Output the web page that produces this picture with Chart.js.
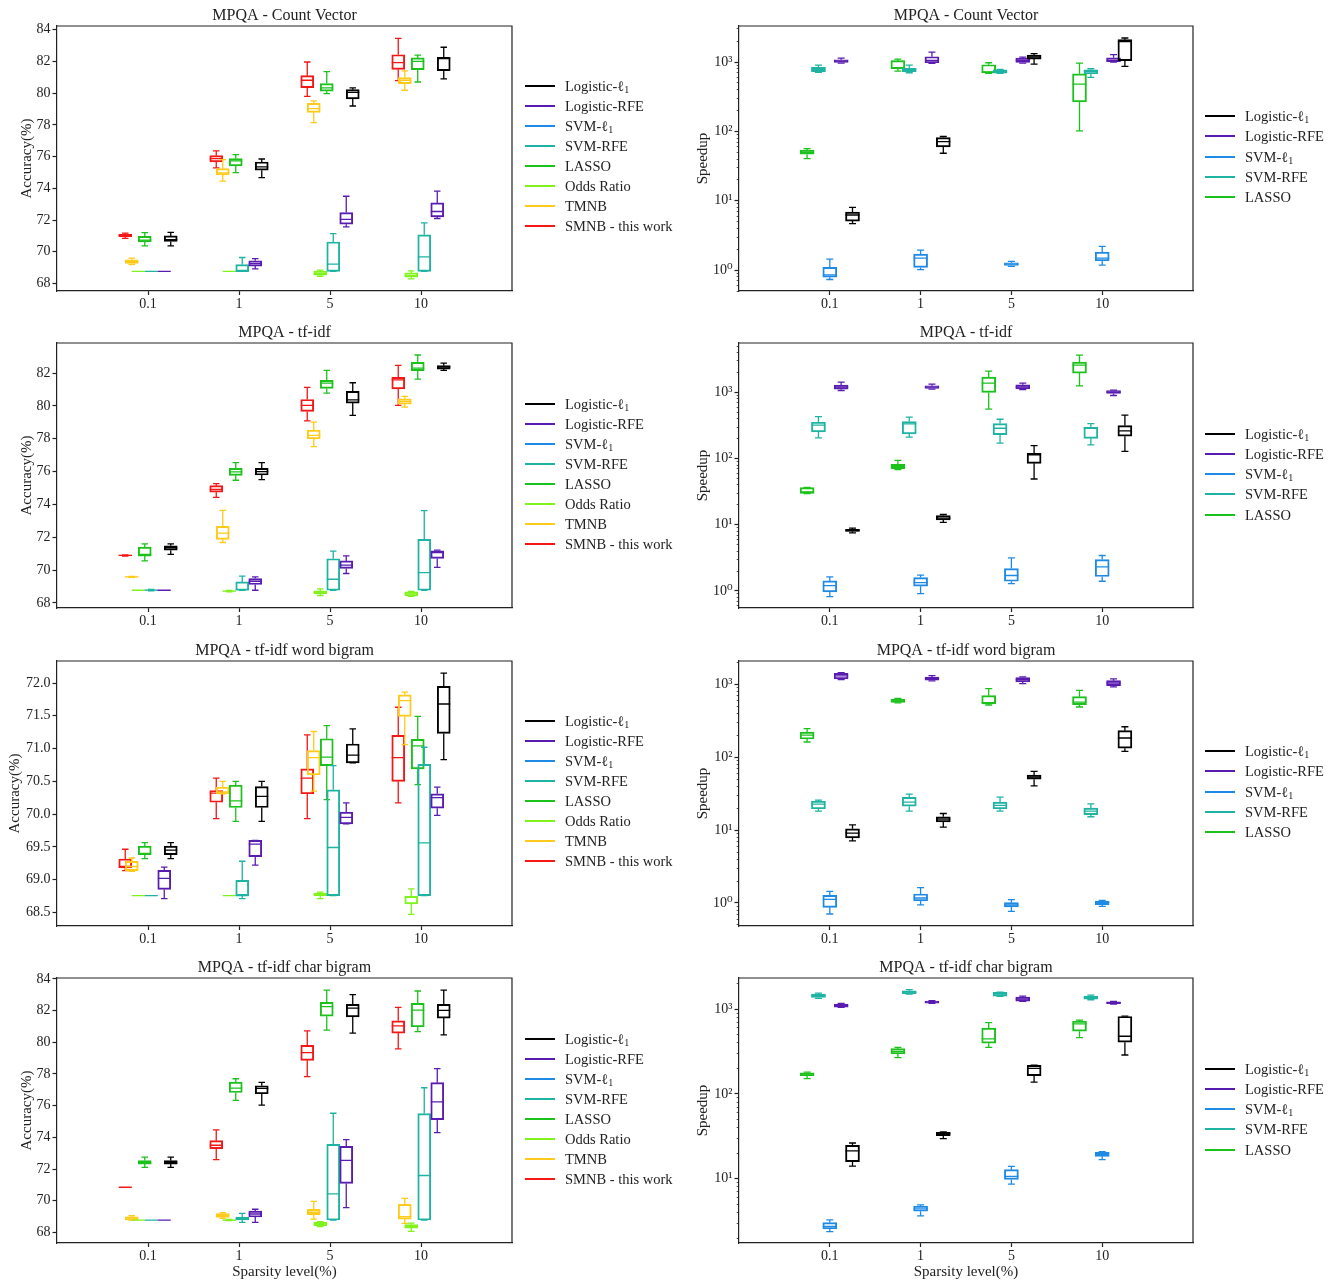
<!DOCTYPE html>
<html lang="en">
<head>
<meta charset="UTF-8">
<title>MPQA - accuracy and speedup</title>
<script src="https://cdn.jsdelivr.net/npm/chart.js"></script>
<style>
  * { margin:0; padding:0; box-sizing:border-box; }
  body { width:1341px; height:1282px; background:#fff; overflow:hidden; font-family:"Liberation Serif","DejaVu Serif",serif; }
  #wrap { position:relative; width:1341px; height:1282px; }
  canvas { position:absolute; }
  .lg { position:absolute; font-size:14.5px; line-height:18px; color:#222; white-space:nowrap; }
  .lg sub { font-size:10px; vertical-align:-2px; line-height:0; }
  .ln { position:absolute; width:30px; height:2px; }
</style>
</head>
<body>
<div id="wrap"></div>
<script>
// categories and legend
const categories = ['0.1', '1', '5', '10'];
const methods = ['Logistic-ℓ1', 'Logistic-RFE', 'SVM-ℓ1', 'SVM-RFE', 'LASSO', 'Odds Ratio', 'TMNB', 'SMNB - this work'];
const colors = ['#000000', '#5a1cb0', '#1f8ae6', '#1fb3a3', '#1cc21c', '#80f21c', '#ffca1a', '#f51616'];

// each row: one method (legend order), 4 boxes of [whiskerLow, q1, median, q3, whiskerHigh]
const accCount = [
  [[70.37,70.65,70.77,71.0,71.23],[74.68,75.14,75.35,75.66,75.85],[79.19,79.63,80.05,80.22,80.33],[80.9,81.42,82.17,82.26,82.89]],
  [[68.77,68.77,68.77,68.77,68.77],[68.92,69.1,69.26,69.43,69.57],[71.57,71.74,72.05,72.47,73.5],[72.1,72.2,72.54,73.08,73.82]],
  null,
  [[68.77,68.77,68.77,68.77,68.77],[68.77,68.77,68.77,69.2,69.64],[68.77,68.77,69.22,70.62,71.15],[68.77,68.77,69.68,71.07,71.82]],
  [[70.37,70.62,70.73,70.98,71.21],[74.99,75.41,75.73,75.87,76.13],[79.97,80.12,80.33,80.6,81.35],[80.7,81.48,82.0,82.22,82.4]],
  [[68.77,68.77,68.77,68.77,68.77],[68.77,68.77,68.77,68.77,68.77],[68.46,68.53,68.63,68.78,68.84],[68.3,68.4,68.5,68.67,68.8]],
  [[69.2,69.27,69.38,69.5,69.6],[74.45,74.85,74.97,75.24,75.81],[78.14,78.79,79.02,79.36,79.51],[80.18,80.6,80.81,80.98,81.4]],
  [[70.85,70.95,71.02,71.1,71.18],[75.29,75.66,75.87,76.06,76.36],[79.8,80.35,80.81,81.1,81.96],[80.79,81.5,81.92,82.42,83.45]]
];
const accTfidf = [
  [[70.95,71.21,71.36,71.48,71.6],[75.51,75.79,76.0,76.2,76.55],[79.42,80.17,80.37,80.88,81.41],[82.16,82.24,82.37,82.45,82.6]],
  [[68.77,68.77,68.77,68.77,68.77],[68.77,69.12,69.32,69.48,69.59],[69.79,70.1,70.3,70.56,70.87],[70.16,70.71,71.07,71.17,71.21]],
  null,
  [[68.74,68.76,68.78,68.8,68.82],[68.77,68.77,68.81,69.28,69.63],[68.77,68.77,69.44,70.69,71.15],[68.77,68.77,69.85,71.87,73.62]],
  [[70.56,70.85,70.95,71.4,71.6],[75.47,75.77,75.98,76.2,76.55],[80.78,81.06,81.39,81.55,82.16],[81.63,82.14,82.3,82.65,83.1]],
  [[68.77,68.77,68.77,68.77,68.77],[68.68,68.7,68.72,68.74,68.76],[68.45,68.57,68.65,68.73,68.85],[68.4,68.43,68.55,68.67,68.7]],
  [[69.56,69.57,69.58,69.6,69.61],[71.68,71.87,72.25,72.66,73.64],[77.52,77.99,78.2,78.52,79.01],[79.92,80.11,80.27,80.43,80.58]],
  [[70.85,70.87,70.89,70.91,70.93],[74.43,74.74,74.92,75.14,75.26],[79.09,79.66,80.03,80.39,81.13],[80.03,81.04,81.59,81.74,82.47]]
];
const accWord = [
  [[69.32,69.38,69.45,69.51,69.565],[69.89,70.1,70.27,70.42,70.5],[70.78,70.78,70.9,71.07,71.3],[70.83,71.23,71.68,71.95,72.15]],
  [[68.71,68.85,69.02,69.14,69.19],[69.22,69.35,69.54,69.6,69.6],[69.85,69.85,69.95,70.03,70.17],[69.98,70.09,70.25,70.31,70.41]],
  null,
  [[68.755,68.755,68.755,68.755,68.755],[68.71,68.755,68.755,68.99,69.28],[68.755,68.755,69.49,70.37,70.74],[68.755,68.755,69.56,70.76,71.02]],
  [[69.32,69.38,69.4,69.51,69.565],[69.89,70.1,70.2,70.44,70.5],[70.22,70.74,70.87,71.15,71.35],[70.45,70.69,71.04,71.14,71.49]],
  [[68.755,68.755,68.755,68.755,68.755],[68.755,68.755,68.755,68.755,68.755],[68.71,68.755,68.77,68.79,68.81],[68.47,68.63,68.73,68.75,68.86]],
  [[69.127,69.137,69.2,69.28,69.33],[70.31,70.31,70.34,70.41,70.5],[70.35,70.6,70.86,70.97,71.26],[71.06,71.49,71.73,71.82,71.86]],
  [[69.137,69.178,69.203,69.315,69.463],[69.93,70.18,70.32,70.36,70.55],[69.93,70.31,70.55,70.69,71.21],[70.17,70.5,70.86,71.2,71.63]]
];
const accChar = [
  [[72.1,72.31,72.4,72.54,72.75],[76.03,76.75,77.09,77.26,77.47],[80.58,81.61,82.16,82.39,83.01],[80.47,81.53,82.01,82.39,83.3]],
  [[68.78,68.78,68.78,68.78,68.78],[68.63,68.97,69.16,69.35,69.46],[69.56,71.09,72.54,73.43,73.85],[74.3,75.12,76.24,77.45,78.34]],
  null,
  [[68.78,68.78,68.78,68.78,68.78],[68.63,68.78,68.89,68.97,69.2],[68.78,68.78,70.43,73.56,75.52],[68.78,68.78,71.59,75.5,77.13]],
  [[72.1,72.31,72.4,72.54,72.75],[76.33,76.83,77.11,77.49,77.7],[80.77,81.65,82.25,82.52,83.3],[80.68,80.98,82.03,82.46,83.24]],
  [[68.78,68.78,68.78,68.78,68.78],[68.74,68.76,68.78,68.8,68.82],[68.36,68.42,68.53,68.63,68.68],[68.06,68.27,68.38,68.49,68.59]],
  [[68.78,68.78,68.84,68.99,69.05],[68.89,68.95,69.08,69.18,69.25],[68.84,69.12,69.27,69.46,69.96],[68.57,68.84,69.0,69.77,70.15]],
  [[70.85,70.85,70.85,70.85,70.85],[72.59,73.28,73.5,73.79,74.47],[77.83,78.86,79.35,79.81,80.72],[79.58,80.58,81.04,81.36,82.2]]
];

// speedup: Logistic-ℓ1, Logistic-RFE, SVM-ℓ1, SVM-RFE, LASSO
const spdCount = [
  [[4.67,5.1,6.23,6.88,8.04],[48.4,59.8,71.4,81.6,84.4],[935,1105,1181,1262,1319],[865,1045,1966,2103,2222]],
  [[967,989,1033,1081,1142],[957,977,1057,1194,1394],[967,989,1057,1142,1181],[1000,1011,1069,1155,1276]],
  [[0.733,0.792,0.856,1.093,1.44],[1.02,1.093,1.49,1.70,1.945],[1.13,1.168,1.221,1.276,1.334],[1.18,1.364,1.49,1.82,2.2]],
  [[709,725,783,837,905],[701,725,774,810,905],[686,693,733,774,783],[600,678,733,774,801]],
  [[40.6,46.9,50.1,53.6,56.6],[741,801,1027,1045,1105],[686,701,717,915,978],[102,267,481,678,967]]
];
const spdTfidf = [
  [[7.57,7.92,8.2,8.5,8.9],[10.85,11.8,12.6,13.8,14.3],[49.2,85,113.6,120,157],[129,218,262,316,454]],
  [[1072,1123,1204,1291,1434],[1123,1150,1204,1262,1337],[1110,1136,1219,1306,1384],[901,966,1011,1072,1084]],
  [[0.82,0.966,1.205,1.418,1.63],[0.911,1.177,1.337,1.59,1.73],[1.29,1.40,1.71,2.18,3.16],[1.40,1.65,2.31,2.98,3.43]],
  [[206,254,320,355,433],[211,236,335,363,423],[171,231,288,339,394],[161,203,288,298,339]],
  [[29.5,29.8,31.3,36.4,36.8],[68.1,70.5,75.6,82,94.3],[559,1000,1384,1708,2105],[1262,1963,2600,2883,3680]]
];
const spdWord = [
  [[7.13,7.84,9.1,10.43,11.85],[11.0,13.0,14.2,15.3,16.96],[40.7,50.3,53.6,57.1,64.2],[121,134,185,233,264]],
  [[1172,1197,1316,1432,1463],[1124,1148,1210,1275,1330],[1032,1088,1172,1248,1275],[929,968,1054,1135,1197]],
  [[0.706,0.872,1.12,1.275,1.447],[0.939,1.065,1.17,1.33,1.626],[0.768,0.881,0.939,1.01,1.11],[0.9,0.948,1.02,1.065,1.088]],
  [[18.3,19.7,22.8,25.1,25.9],[18.3,21.4,24.3,28.2,31.3],[18.3,19.7,21.9,24.3,28.5],[15.3,16.3,18.3,20.1,23.0]],
  [[163,179,203,223,248],[563,571,596,628,646],[525,542,565,706,881],[493,531,577,684,836]]
];
const spdChar = [
  [[14.1,15.9,21.3,24.8,26.4],[29.7,32.3,34.1,35.3,35.6],[138,164,200,217,219],[288,407,479,819,827]],
  [[1046,1056,1100,1146,1170],[1166,1178,1210,1244,1256],[1232,1244,1314,1387,1425],[1146,1157,1190,1222,1232]],
  [[2.38,2.56,2.75,3.04,3.27],[3.65,4.14,4.41,4.75,4.92],[8.65,9.82,10.66,12.8,14.0],[16.8,18.4,19.4,20.5,20.9]],
  [[1337,1374,1438,1506,1546],[1504,1518,1589,1648,1695],[1412,1425,1506,1574,1588],[1290,1313,1370,1425,1464]],
  [[152,164,171.7,178,181],[268,296,318,342,355],[355,396,446,596,695],[462,550,670,721,740]]
];

// y tick labels of the accuracy panels
const accTicksCount = [68, 70, 72, 74, 76, 78, 80, 82, 84];
const accTicksTfidf = [68, 70, 72, 74, 76, 78, 80, 82];
const accTicksWord = [68.5, 69.0, 69.5, 70.0, 70.5, 71.0, 71.5, 72.0];
const accTicksChar = [68, 70, 72, 74, 76, 78, 80, 82, 84];
const powLabels = ['10⁰', '10¹', '10²', '10³', '10⁴'];

const fontFamily = '"Liberation Serif", "DejaVu Serif", serif';
Chart.defaults.font.family = fontFamily;
Chart.defaults.color = '#222';

const rowTop = [0, 317, 635, 952];
const frameColor = '#222';

const panels = [
  { data: accCount, title: 'MPQA - Count Vector', row: 0, col: 0, ticks: accTicksCount, min: 67.53, max: 84.23, dec: 0 },
  { data: spdCount, title: 'MPQA - Count Vector', row: 0, col: 1, log: true, min: 0.5, max: 3311 },
  { data: accTfidf, title: 'MPQA - tf-idf', row: 1, col: 0, ticks: accTicksTfidf, min: 67.69, max: 83.83, dec: 0 },
  { data: spdTfidf, title: 'MPQA - tf-idf', row: 1, col: 1, log: true, min: 0.552, max: 5600 },
  { data: accWord, title: 'MPQA - tf-idf word bigram', row: 2, col: 0, ticks: accTicksWord, min: 68.292, max: 72.336, dec: 1, titlePad: 6 },
  { data: spdWord, title: 'MPQA - tf-idf word bigram', row: 2, col: 1, log: true, min: 0.4826, max: 2113 },
  { data: accChar, title: 'MPQA - tf-idf char bigram', row: 3, col: 0, ticks: accTicksChar, min: 67.33, max: 84.06, dec: 0 },
  { data: spdChar, title: 'MPQA - tf-idf char bigram', row: 3, col: 1, log: true, min: 1.749, max: 2328 }
];

// whiskers, caps and median, drawn after each box dataset
const boxWhiskers = {
  id: 'boxWhiskers',
  afterDatasetDraw(chart, args) {
    const ds = chart.data.datasets[args.index];
    const { ctx, scales: { x, y } } = chart;
    const half = ds.barThickness / 2;
    ctx.save();
    ctx.strokeStyle = ds.borderColor;
    ctx.lineWidth = 1.3;
    ds.stats.forEach((s, j) => {
      const px = x.getPixelForValue(ds.data[j].x);
      const [lo, q1, med, q3, hi] = s.map(v => y.getPixelForValue(v));
      ctx.beginPath();
      ctx.moveTo(px, q3); ctx.lineTo(px, hi);
      ctx.moveTo(px, q1); ctx.lineTo(px, lo);
      ctx.moveTo(px - half / 2, hi); ctx.lineTo(px + half / 2, hi);
      ctx.moveTo(px - half / 2, lo); ctx.lineTo(px + half / 2, lo);
      ctx.moveTo(px - half, med); ctx.lineTo(px + half, med);
      ctx.stroke();
    });
    ctx.restore();
  }
};

// closes the axes box and centres the title over the axes
const frame = {
  id: 'frame',
  afterDraw(chart, args, opts) {
    const { ctx, chartArea: a } = chart;
    ctx.save();
    ctx.strokeStyle = frameColor;
    ctx.lineWidth = 1.2;
    ctx.beginPath();
    ctx.moveTo(a.left, a.top); ctx.lineTo(a.right, a.top); ctx.lineTo(a.right, a.bottom);
    ctx.stroke();
    ctx.fillStyle = '#222';
    ctx.font = '16px ' + fontFamily;
    ctx.textAlign = 'center';
    ctx.textBaseline = 'middle';
    ctx.fillText(opts.title, (a.left + a.right) / 2, a.top - 10);
    ctx.restore();
  }
};

const isPow = v => Math.abs(Math.log10(v) - Math.round(Math.log10(v))) < 1e-9;

const wrap = document.getElementById('wrap');

panels.forEach(p => {
  const left = p.col === 0 ? 0 : 680;
  const width = p.col === 0 ? 680 : 661;
  const bottomRow = p.row === 3;
  const xh = bottomRow ? 40 : 26;
  const height = 26 + 265 + xh;
  const canvas = document.createElement('canvas');
  canvas.width = width; canvas.height = height;
  canvas.style.left = left + 'px'; canvas.style.top = rowTop[p.row] + 'px';
  canvas.style.width = width + 'px'; canvas.style.height = height + 'px';
  wrap.appendChild(canvas);

  const nShown = p.log ? 5 : 8;
  const step = p.log ? 0.125 : 1 / 14;
  const mid = (nShown - 1) / 2;
  const thick = p.log ? 14 : 13;

  const datasets = [];
  p.data.forEach((rows, i) => {
    if (!rows) return;
    const slot = (nShown - 1 - i) - mid;
    datasets.push({
      label: methods[i],
      data: rows.map((s, j) => ({ x: j + 1 + slot * step, y: [s[1], s[3]] })),
      stats: rows,
      backgroundColor: 'rgba(0,0,0,0)',
      borderColor: colors[i],
      borderWidth: 1.3,
      borderSkipped: false,
      barThickness: thick,
      grouped: false
    });
  });

  let yTicks;
  if (p.log) {
    yTicks = [];
    for (let k = Math.floor(Math.log10(p.min)); k <= Math.ceil(Math.log10(p.max)); k++) {
      for (let m = 1; m <= 9; m++) {
        const v = m * Math.pow(10, k);
        if (v >= p.min && v <= p.max) yTicks.push(v);
      }
    }
  } else {
    yTicks = p.ticks;
  }

  new Chart(canvas, {
    type: 'bar',
    data: { datasets },
    options: {
      responsive: false,
      animation: false,
      devicePixelRatio: 1,
      layout: { padding: { left: 0, right: p.col === 0 ? 168 : 148, top: 26, bottom: 0 } },
      plugins: {
        legend: { display: false },
        tooltip: { enabled: false },
        title: { display: false },
        frame: { title: p.title }
      },
      scales: {
        x: {
          type: 'linear', min: 0, max: 5, offset: false,
          afterBuildTicks: s => { s.ticks = [1, 2, 3, 4].map(v => ({ value: v })); },
          afterFit: s => { s.height = xh; },
          ticks: { callback: v => categories[v - 1], font: { size: 14 }, padding: 1, autoSkip: false, maxRotation: 0 },
          grid: { offset: false, drawOnChartArea: false, tickLength: 4, tickColor: frameColor, tickWidth: 1.2 },
          border: { color: frameColor, width: 1.2 },
          title: { display: bottomRow, text: 'Sparsity level(%)', font: { size: 15 }, padding: { top: 0, bottom: 2 } }
        },
        y: {
          type: p.log ? 'logarithmic' : 'linear', min: p.min, max: p.max,
          afterBuildTicks: s => { s.ticks = yTicks.map(v => ({ value: v })); },
          afterFit: s => { s.width = p.col === 0 ? 57 : 59; },
          ticks: {
            font: { size: 14 }, padding: 2, autoSkip: false,
            callback: v => p.log ? (isPow(v) ? powLabels[Math.round(Math.log10(v))] : '') : v.toFixed(p.dec)
          },
          grid: {
            drawOnChartArea: false, tickLength: 4.5, tickColor: frameColor,
            tickWidth: c => (p.log && !isPow(c.tick.value)) ? 0.8 : 1.2,
            tickBorderDash: c => (p.log && !isPow(c.tick.value)) ? [0, 2.2, 3, 10] : []
          },
          border: { color: frameColor, width: 1.2 },
          title: {
            display: true, text: p.log ? 'Speedup' : 'Accuracy(%)', font: { size: 15 },
            padding: { top: p.log ? 14.5 : (p.titlePad || 18), bottom: 0 }
          }
        }
      }
    },
    plugins: [boxWhiskers, frame]
  });

  // legend, to the right of the axes
  const count = p.log ? 5 : 8;
  const lx = p.col === 0 ? 525 : 1205;
  const y0 = (p.col === 0 ? 86 : 116) + p.row * 317.5;
  const dy = p.col === 0 ? 20.05 : 20.3;
  for (let i = 0; i < count; i++) {
    const y = Math.round(y0 + i * dy);
    const ln = document.createElement('div');
    ln.className = 'ln';
    ln.style.left = lx + 'px'; ln.style.top = (y - 1) + 'px';
    ln.style.backgroundColor = colors[i];
    wrap.appendChild(ln);
    const t = document.createElement('div');
    t.className = 'lg';
    t.style.left = (lx + 40) + 'px'; t.style.top = (y - 9.5) + 'px';
    t.innerHTML = methods[i].replace('ℓ1', 'ℓ<sub>1</sub>');
    wrap.appendChild(t);
  }
});
</script>
</body>
</html>
